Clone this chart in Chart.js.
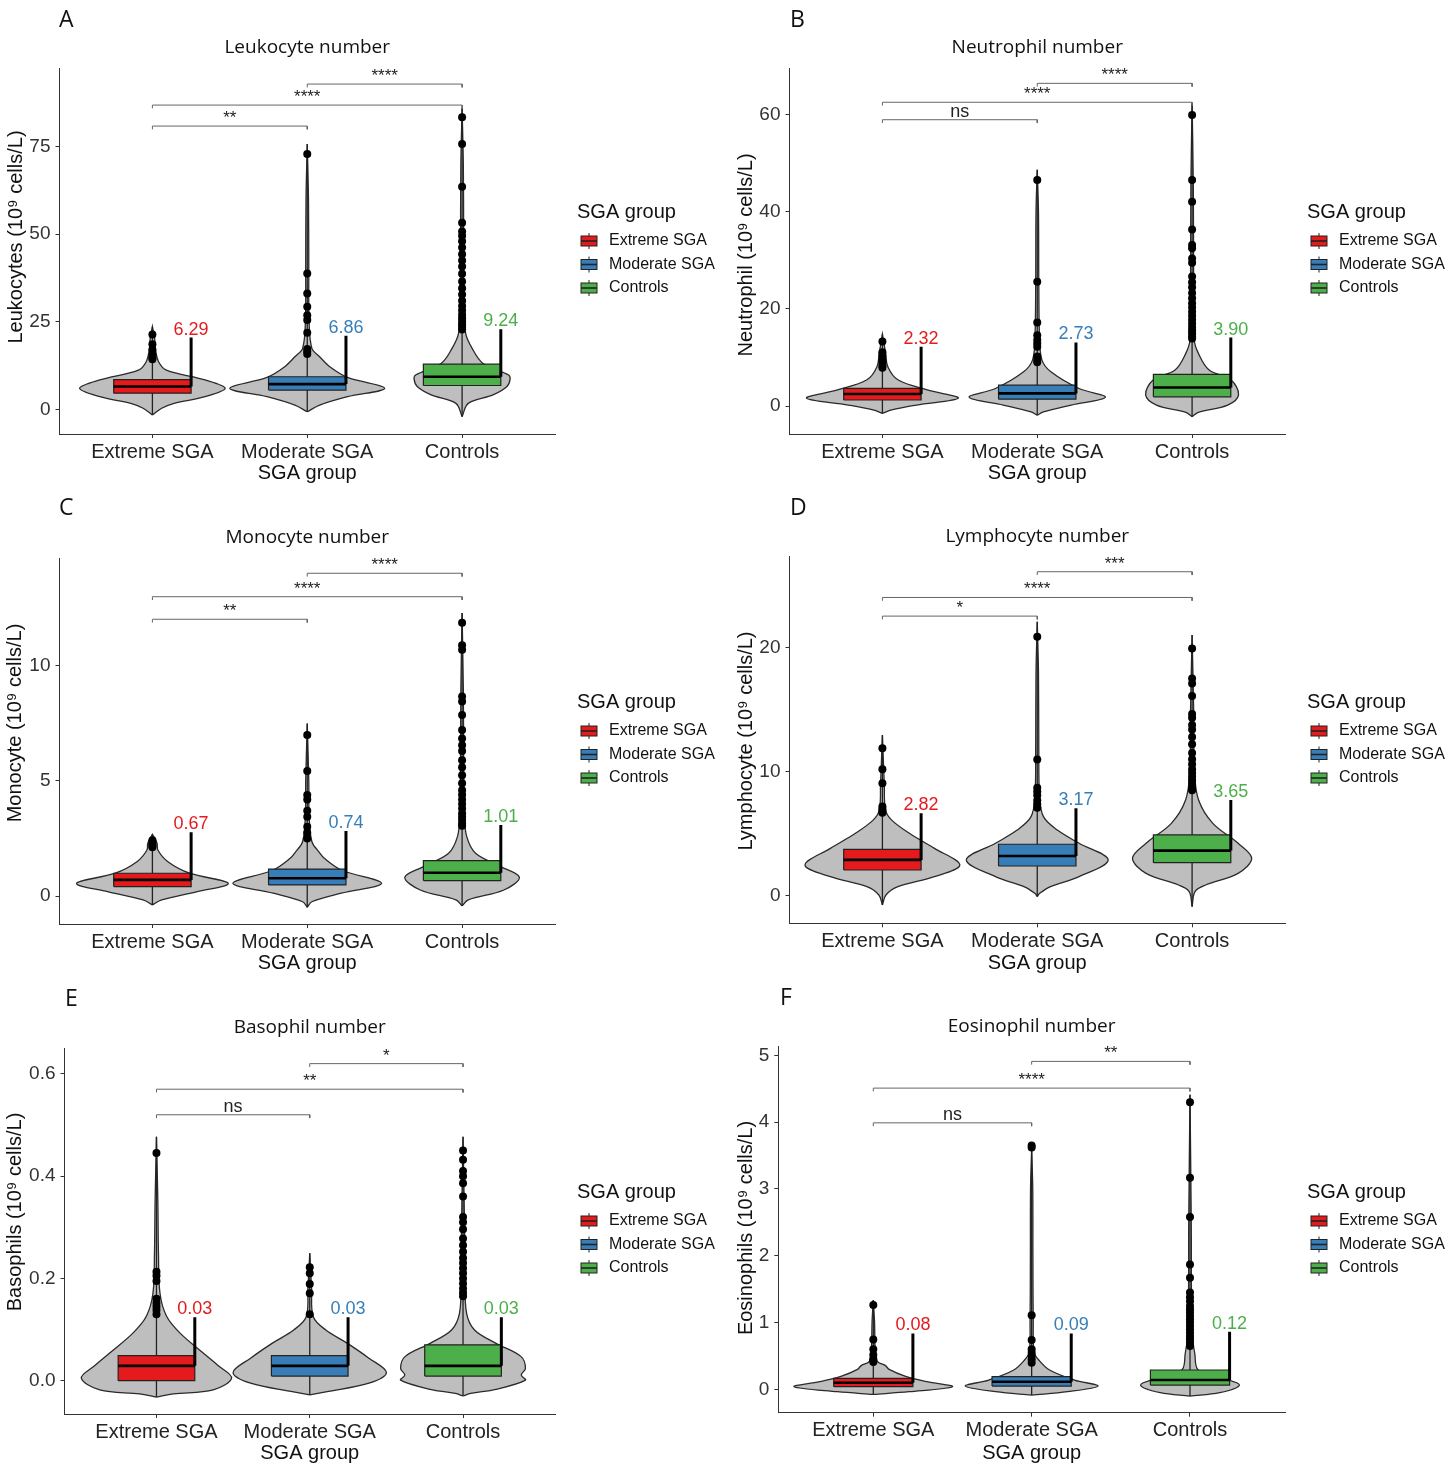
<!DOCTYPE html>
<html>
<head>
<meta charset="utf-8">
<script src="https://cdn.jsdelivr.net/npm/chart.js@4.4.1/dist/chart.umd.min.js"></script>
<style>
  html, body { margin: 0; padding: 0; background: #fff; overflow: hidden; }
  #wrap { position: relative; width: 1451px; height: 1466px; }
  #wrap canvas { position: absolute; }
</style>
</head>
<body>
<div id="wrap"></div>
<script>
// ─── Data ────────────────────────────────────────────────────────────────────

const groups = ["Extreme SGA", "Moderate SGA", "Controls"];
const legendTitle = "SGA group";
const xAxisTitle = "SGA group";

const panelLetters = ["A", "B", "C", "D", "E", "F"];
const panelTitles = ["Leukocyte number", "Neutrophil number", "Monocyte number",
                     "Lymphocyte number", "Basophil number", "Eosinophil number"];
const yAxisTitles = ["Leukocytes (10\u2079 cells/L)", "Neutrophil (10\u2079 cells/L)",
                     "Monocyte (10\u2079 cells/L)", "Lymphocyte (10\u2079 cells/L)",
                     "Basophils (10\u2079 cells/L)", "Eosinophils (10\u2079 cells/L)"];

const yMin = [-7.05, -5.77, -1.217, -2.2, -0.0652, -0.349];
const yMax = [97.4, 69.6, 14.68, 27.3, 0.650, 5.13];
const yTickValues = [[0, 25, 50, 75], [0, 20, 40, 60], [0, 5, 10], [0, 10, 20],
                     [0, 0.2, 0.4, 0.6], [0, 1, 2, 3, 4, 5]];
const yTickLabels = [["0", "25", "50", "75"], ["0", "20", "40", "60"], ["0", "5", "10"],
                     ["0", "10", "20"], ["0.0", "0.2", "0.4", "0.6"], ["0", "1", "2", "3", "4", "5"]];

// box quartiles per panel, per group
const boxQ1 = [[4.6, 5.5, 6.8], [1.24, 1.4, 1.9], [0.41, 0.48, 0.67],
               [2.09, 2.41, 2.68], [0.0, 0.009, 0.009], [0.04, 0.05, 0.065]];
const boxMedian = [[6.5, 7.2, 9.3], [2.47, 2.6, 3.8], [0.70, 0.77, 1.01],
                   [2.9, 3.22, 3.65], [0.029, 0.029, 0.029], [0.10, 0.115, 0.14]];
const boxQ3 = [[8.5, 9.3, 12.9], [3.64, 4.3, 6.5], [0.99, 1.17, 1.54],
               [3.75, 4.16, 4.91], [0.049, 0.049, 0.070], [0.165, 0.19, 0.29]];

// printed means and the top of the bar they sit on
const meanText = [["6.29", "6.86", "9.24"], ["2.32", "2.73", "3.90"], ["0.67", "0.74", "1.01"],
                  ["2.82", "3.17", "3.65"], ["0.03", "0.03", "0.03"], ["0.08", "0.09", "0.12"]];
const meanBarTop = [[20.5, 21.0, 22.9], [12.2, 13.1, 14.1], [2.77, 2.83, 3.09],
                    [6.65, 7.05, 7.72], [0.124, 0.124, 0.124], [0.838, 0.838, 0.863]];

// outlying points
const outliers = [
  [[21.4, 18.6, 17.0, 15.6, 14.9, 14.3],
   [72.9, 38.8, 33.1, 29.3, 26.9, 25.5, 21.9, 17.2, 16.5, 15.8],
   [83.4, 75.8, 63.6, 53.3, 50.8, 49.6, 48.0, 46.2, 44.3, 42.5, 40.8, 38.7, 36.5, 34.6,
    32.8, 31.0, 29.5, 28.2, 27.0, 26.0, 25.0, 24.2, 23.5, 22.8]],
  [[13.3, 11.1, 10.3, 9.5, 8.9, 8.3, 7.9],
   [46.6, 25.6, 17.2, 14.6, 13.6, 12.9, 12.2, 10.2, 9.5, 9.0],
   [60.0, 46.6, 42.1, 36.4, 33.2, 32.5, 30.4, 29.5, 26.7, 25.5, 24.5, 23.3, 22.2, 21.2,
    20.3, 19.4, 18.6, 17.8, 17.0, 16.3, 15.6, 15.0, 14.4, 13.9]],
  [[2.42, 2.33, 2.25, 2.18, 2.12],
   [7.0, 5.43, 4.39, 4.2, 3.71, 3.45, 3.01, 2.75, 2.5],
   [11.88, 10.9, 10.7, 8.67, 8.45, 7.87, 7.22, 6.85, 6.55, 6.3, 5.9, 5.6, 5.25, 4.9,
    4.6, 4.4, 4.2, 4.0, 3.8, 3.6, 3.45, 3.3, 3.15, 3.05]],
  [[11.88, 10.19, 9.06, 7.2, 7.0, 6.85, 6.7],
   [20.86, 10.99, 8.7, 8.4, 8.1, 7.7, 7.4, 7.1],
   [19.92, 17.5, 17.1, 16.1, 14.64, 14.35, 13.75, 13.4, 12.8, 12.2, 11.5, 11.0, 10.6,
    10.2, 9.9, 9.6, 9.3, 9.0, 8.7, 8.5]],
  [[0.445, 0.213, 0.205, 0.195, 0.16, 0.152, 0.145, 0.138, 0.13],
   [0.222, 0.21, 0.189, 0.171, 0.13],
   [0.45, 0.432, 0.41, 0.40, 0.386, 0.36, 0.32, 0.31, 0.296, 0.278, 0.265, 0.252, 0.24,
    0.23, 0.22, 0.21, 0.20, 0.19, 0.18, 0.172, 0.165]],
  [[1.262, 0.748, 0.599, 0.52, 0.46, 0.43, 0.41],
   [3.65, 3.62, 1.11, 0.74, 0.6, 0.55, 0.5, 0.45, 0.4],
   [4.30, 3.17, 2.58, 1.87, 1.67, 1.45, 1.38, 1.32, 1.25, 1.2, 1.15, 1.1, 1.05, 1.0,
    0.95, 0.9, 0.85, 0.8, 0.75, 0.7, 0.65]]
];

// violin outlines: value levels and half-width (in category units) at each level
const violinY = [
  [[-1.6, 0.3, 1.7, 3.6, 6.0, 8.4, 11.2, 13.6, 17, 20, 23.6],
   [-0.7, 1.2, 3.6, 6.0, 9.1, 12, 15, 17.4, 25, 40, 60, 75.8],
   [-2.1, 1.7, 4.1, 6.5, 8.6, 9.8, 13.1, 17.4, 21.7, 30, 50, 70, 86]],
  [[-1.5, -0.8, 0.2, 1.6, 3.3, 5.4, 8.1, 11, 14.8],
   [-1.9, -1.2, 0.2, 1.8, 3.6, 7.1, 9.5, 14, 25, 40, 48.7],
   [-2.2, -1.3, 0.2, 2.3, 5.4, 7.4, 10.9, 13.6, 25, 45, 62.4]],
  [[-0.39, -0.17, 0.19, 0.55, 0.99, 1.49, 2.0, 2.3, 2.68],
   [-0.49, -0.25, 0.12, 0.55, 1.13, 1.64, 1.93, 2.36, 3.5, 5, 7.5],
   [-0.43, -0.17, 0.26, 0.81, 1.28, 1.86, 2.58, 3.5, 6, 9, 12.3]],
  [[-0.72, 0.08, 0.75, 1.55, 2.49, 3.83, 5.04, 6.1, 6.9, 9, 12.95],
   [-0.05, 0.21, 0.75, 1.55, 2.9, 4.24, 5.3, 6.38, 8, 12, 18, 22.06],
   [-0.86, 0.35, 0.88, 1.82, 3.03, 4.24, 5.84, 7.72, 10, 15, 21]],
  [[-0.032, -0.026, -0.018, 0.005, 0.03, 0.054, 0.093, 0.126, 0.171, 0.25, 0.35, 0.477],
   [-0.028, -0.022, -0.005, 0.016, 0.044, 0.073, 0.099, 0.125, 0.18, 0.249],
   [-0.030, -0.025, -0.017, 0.001, 0.011, 0.024, 0.047, 0.073, 0.099, 0.132, 0.2, 0.3, 0.477]],
  [[-0.075, -0.035, 0.04, 0.115, 0.2, 0.3, 0.36, 0.42, 0.6, 1.0, 1.337],
   [-0.085, -0.035, 0.05, 0.14, 0.29, 0.44, 0.56, 1.0, 2.0, 3.0, 3.61],
   [-0.10, -0.05, 0.065, 0.165, 0.29, 0.54, 0.74, 1.2, 2.5, 4.41]]
];
const violinHalfWidth = [
  [[0, 0.06, 0.14, 0.34, 0.47, 0.34, 0.09, 0.04, 0.02, 0.015, 0],
   [0, 0.08, 0.26, 0.5, 0.26, 0.15, 0.08, 0.03, 0.012, 0.01, 0.008, 0],
   [0, 0.04, 0.2, 0.29, 0.31, 0.3, 0.135, 0.065, 0.023, 0.012, 0.01, 0.008, 0]],
  [[0, 0.06, 0.22, 0.49, 0.29, 0.1, 0.035, 0.02, 0],
   [0, 0.04, 0.22, 0.44, 0.27, 0.086, 0.03, 0.015, 0.01, 0.008, 0],
   [0, 0.04, 0.23, 0.3, 0.25, 0.11, 0.04, 0.014, 0.01, 0.008, 0]],
  [[0, 0.06, 0.29, 0.49, 0.24, 0.1, 0.035, 0.03, 0],
   [0, 0.03, 0.22, 0.48, 0.22, 0.11, 0.074, 0.03, 0.012, 0.01, 0],
   [0, 0.04, 0.27, 0.37, 0.25, 0.087, 0.03, 0.015, 0.01, 0.008, 0]],
  [[0, 0.023, 0.1, 0.336, 0.5, 0.336, 0.174, 0.06, 0.02, 0.012, 0],
   [0, 0.016, 0.086, 0.27, 0.458, 0.27, 0.13, 0.04, 0.015, 0.01, 0.008, 0],
   [0, 0.019, 0.088, 0.297, 0.385, 0.297, 0.134, 0.042, 0.015, 0.01, 0]],
  [[0, 0.11, 0.37, 0.49, 0.40, 0.305, 0.154, 0.066, 0.023, 0.013, 0.009, 0],
   [0, 0.105, 0.386, 0.5, 0.386, 0.246, 0.105, 0.023, 0.012, 0],
   [0, 0.05, 0.215, 0.407, 0.38, 0.407, 0.379, 0.215, 0.075, 0.023, 0.012, 0.01, 0]],
  [[0, 0.227, 0.5, 0.34, 0.2, 0.1, 0.075, 0.025, 0.012, 0.008, 0],
   [0, 0.227, 0.419, 0.27, 0.113, 0.045, 0.015, 0.01, 0.008, 0.007, 0],
   [0, 0.188, 0.312, 0.21, 0.052, 0.03, 0.018, 0.01, 0.008, 0]]
];

// significance brackets: pairs of group indexes, height and label
const bracketPairs = [[0, 1], [0, 2], [1, 2]];
const bracketY = [[80.9, 86.9, 92.9], [59.0, 62.6, 66.5], [12.03, 13.01, 14.03],
                  [22.52, 24.02, 26.09], [0.520, 0.570, 0.620], [3.99, 4.51, 4.91]];
const bracketText = [["**", "****", "****"], ["ns", "****", "****"], ["**", "****", "****"],
                     ["*", "****", "***"], ["ns", "**", "*"], ["ns", "****", "**"]];

// ─── Layout & style ──────────────────────────────────────────────────────────

const groupColors = ["#e41a1c", "#377eb8", "#4daf4a"];
const VIOLIN_FILL = "#bebebe";
const BOX_HALF = 0.25;
const BRACKET_TICK = 0.009;
const SANS = '"Liberation Sans", Arial, sans-serif';
const SANS2 = '"Open Sans", sans-serif';

const canvasLeft = [0, 730, 0, 730, 0, 730];
const canvasTop  = [0, 0, 490, 490, 980, 980];
const canvasW    = [730, 721, 730, 721, 730, 721];
const CANVAS_H   = 490;
const areaLeft   = [59.5, 59.5, 59.5, 59.5, 64.5, 48.3];
const areaRight  = [555, 555, 555, 555, 555, 555];
const areaTop    = [68.3, 68.3, 68.3, 66.7, 68.3, 66.7];
const areaBottom = [434, 434, 434, 433.3, 434, 432.7];
const letterX    = [59, 60, 59, 60, 65, 50];
const letterY    = [20, 20, 18, 18, 19, 18];
const titleY     = [48, 48, 48, 47, 48, 47];
const yTitleX    = [16, 16, 15, 16, 15, 16];
const yTitleMid  = [237, 255, 233, 251, 232, 248];

function drawKey(ctx, cx, cy, color) {
  ctx.strokeStyle = "#222";
  ctx.lineWidth = 1;
  ctx.beginPath();
  ctx.moveTo(cx, cy - 8); ctx.lineTo(cx, cy + 8);
  ctx.stroke();
  ctx.fillStyle = color;
  ctx.fillRect(cx - 8, cy - 5, 16, 10);
  ctx.strokeRect(cx - 8, cy - 5, 16, 10);
  ctx.lineWidth = 1.6;
  ctx.beginPath();
  ctx.moveTo(cx - 8, cy); ctx.lineTo(cx + 8, cy);
  ctx.stroke();
}

function panelText(p) {
  return {
    id: "panelText" + p,
    afterDatasetsDraw(chart) {
      const { ctx, scales: { x, y } } = chart;
      ctx.save();
      ctx.textAlign = "center";
      ctx.textBaseline = "alphabetic";
      ctx.font = "18px " + SANS;
      meanText[p].forEach((t, i) => {
        ctx.fillStyle = groupColors[i];
        ctx.fillText(t, x.getPixelForValue(i + 1 + BOX_HALF), y.getPixelForValue(meanBarTop[p][i]) - 3);
      });
      ctx.fillStyle = "#222";
      bracketPairs.forEach(([a, b], k) => {
        ctx.font = (bracketText[p][k] === "ns" ? "18px " : "17px ") + SANS;
        ctx.fillText(bracketText[p][k], x.getPixelForValue((a + b) / 2 + 1), y.getPixelForValue(bracketY[p][k]) - 3);
      });
      ctx.restore();
    },
    afterDraw(chart) {
      const { ctx, chartArea } = chart;
      ctx.save();
      ctx.fillStyle = "#111";
      ctx.textBaseline = "middle";
      ctx.textAlign = "left";
      ctx.font = "23px " + SANS2;
      ctx.fillText(panelLetters[p], letterX[p], letterY[p]);
      ctx.textAlign = "center";
      ctx.font = "19px " + SANS2;
      ctx.fillText(panelTitles[p], (chartArea.left + chartArea.right) / 2, titleY[p]);
      // y axis title, rotated
      ctx.save();
      ctx.translate(yTitleX[p], yTitleMid[p]);
      ctx.rotate(-Math.PI / 2);
      ctx.font = "20px " + SANS;
      ctx.fillText(yAxisTitles[p], 0, 0);
      ctx.restore();
      // legend
      ctx.textAlign = "left";
      ctx.font = "20px " + SANS;
      ctx.fillText(legendTitle, 577, 212);
      ctx.font = "16px " + SANS;
      groups.forEach((g, i) => {
        const ky = 241 + i * 23.5;
        drawKey(ctx, 589, ky, groupColors[i]);
        ctx.fillStyle = "#111";
        ctx.fillText(g, 609, ky);
      });
      ctx.restore();
    }
  };
}

function lineSet(points, color, width, order, extra) {
  return Object.assign({
    data: points, showLine: true, borderColor: color, borderWidth: width,
    pointRadius: 0, fill: false, tension: 0, order: order
  }, extra || {});
}

function buildDatasets(p) {
  const ds = [];
  groups.forEach((g, i) => {
    const c = i + 1;
    const vy = violinY[p][i], vw = violinHalfWidth[p][i];
    const right = vy.map((v, k) => ({ x: c + vw[k], y: v }));
    const left = vy.map((v, k) => ({ x: c - vw[k], y: v })).reverse();
    ds.push(lineSet(right.concat(left), "#2a2a2a", 1.3, 50,
      { fill: "shape", backgroundColor: VIOLIN_FILL, tension: 0.35 }));
    ds.push(lineSet([{ x: c, y: vy[0] }, { x: c, y: vy[vy.length - 1] }], "#222", 1.3, 40));
    const q1 = boxQ1[p][i], q3 = boxQ3[p][i];
    ds.push(lineSet([{ x: c - BOX_HALF, y: q1 }, { x: c + BOX_HALF, y: q1 }, { x: c + BOX_HALF, y: q3 },
                     { x: c - BOX_HALF, y: q3 }, { x: c - BOX_HALF, y: q1 }], "#222", 1.2, 30,
      { fill: "shape", backgroundColor: groupColors[i] }));
    ds.push(lineSet([{ x: c - BOX_HALF, y: boxMedian[p][i] }, { x: c + BOX_HALF, y: boxMedian[p][i] }], "#000", 2.6, 20));
    ds.push({
      data: outliers[p][i].map(v => ({ x: c, y: v })), showLine: false,
      pointRadius: 4, pointBackgroundColor: "#000", pointBorderWidth: 0, order: 10
    });
    ds.push(lineSet([{ x: c + BOX_HALF, y: boxMedian[p][i] }, { x: c + BOX_HALF, y: meanBarTop[p][i] }], "#000", 3, 5));
  });
  bracketPairs.forEach(([a, b], k) => {
    const yb = bracketY[p][k], t = (yMax[p] - yMin[p]) * BRACKET_TICK;
    ds.push(lineSet([{ x: a + 1, y: yb - t }, { x: a + 1, y: yb }, { x: b + 1, y: yb }, { x: b + 1, y: yb - t }],
      "#666", 1, 1));
  });
  return ds;
}

const wrap = document.getElementById("wrap");
panelLetters.forEach((letter, p) => {
  const canvas = document.createElement("canvas");
  canvas.width = canvasW[p];
  canvas.height = CANVAS_H;
  canvas.style.left = canvasLeft[p] + "px";
  canvas.style.top = canvasTop[p] + "px";
  canvas.style.width = canvasW[p] + "px";
  canvas.style.height = CANVAS_H + "px";
  wrap.appendChild(canvas);

  new Chart(canvas, {
    type: "line",
    data: { datasets: buildDatasets(p) },
    plugins: [panelText(p)],
    options: {
      responsive: false,
      animation: false,
      events: [],
      layout: { padding: { left: 0, bottom: 0, top: areaTop[p], right: canvasW[p] - areaRight[p] } },
      plugins: { legend: { display: false }, tooltip: { enabled: false }, title: { display: false } },
      scales: {
        x: {
          type: "linear", min: 0.4, max: 3.6,
          afterBuildTicks: (s) => { s.ticks = groups.map((g, i) => ({ value: i + 1 })); },
          afterFit: (s) => { s.height = CANVAS_H - areaBottom[p]; },
          ticks: { callback: (v, i) => groups[i], color: "#222", padding: 2, maxRotation: 0,
                   autoSkip: false, font: { family: SANS, size: 20 } },
          grid: { drawOnChartArea: false, drawTicks: true, tickLength: 4, color: "#333" },
          border: { display: true, color: "#333", width: 1 },
          title: { display: true, text: xAxisTitle, color: "#111", font: { family: SANS, size: 20 },
                   padding: { top: 0, bottom: CANVAS_H - 473 - 12 } }
        },
        y: {
          type: "linear", min: yMin[p], max: yMax[p],
          afterBuildTicks: (s) => { s.ticks = yTickValues[p].map(v => ({ value: v })); },
          afterFit: (s) => { s.width = areaLeft[p]; },
          ticks: { callback: (v, i) => yTickLabels[p][i], color: "#333", padding: 5,
                   autoSkip: false, font: { family: SANS, size: 19 } },
          grid: { drawOnChartArea: false, drawTicks: true, tickLength: 4, color: "#333" },
          border: { display: true, color: "#333", width: 1 },
          title: { display: false }
        }
      }
    }
  });
});
</script>
</body>
</html>
